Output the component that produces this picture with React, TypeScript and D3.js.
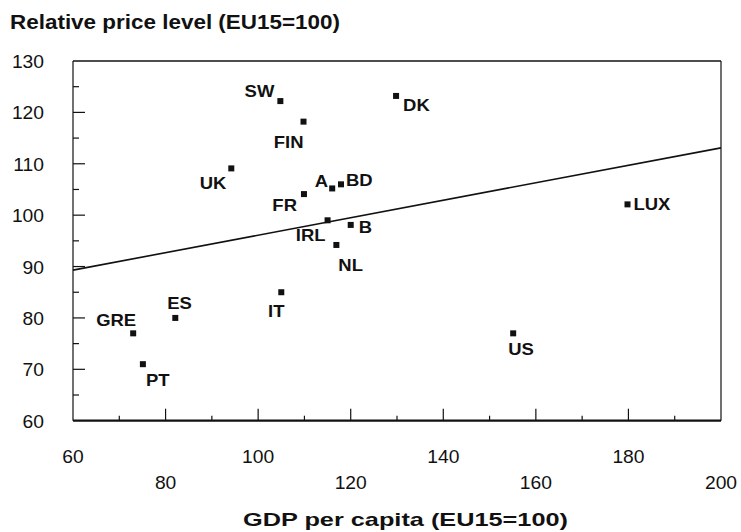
import { useEffect, useRef } from "react";
import * as d3 from "d3";

const countries = ["SW", "FIN", "DK", "UK", "FR", "A", "BD", "IRL", "B", "NL", "LUX", "US", "GRE", "PT", "ES", "IT"];
const gdp = [104.8, 109.8, 129.8, 94.2, 109.9, 116.0, 117.9, 115.0, 120.0, 116.9, 179.8, 155.1, 73.0, 75.1, 82.1, 105.0];
const price = [122.2, 118.2, 123.2, 109.1, 104.1, 105.2, 106.0, 99.0, 98.1, 94.2, 102.1, 77.0, 77.0, 71.0, 80.0, 85.0];

// fitted line end points
const fitGdp = [60, 200];
const fitPrice = [89.3, 113.1];

const xTicks = [60, 80, 100, 120, 140, 160, 180, 200];
const yTicks = [60, 70, 80, 90, 100, 110, 120, 130];

// where each country label sits relative to its marker
const labelPos: Record<string, [string, number, number]> = {
  SW: ["end", -6, -4],
  FIN: ["end", 0, 26],
  DK: ["start", 7, 15],
  UK: ["end", -5, 21],
  FR: ["end", -7, 17],
  A: ["end", -4, -1],
  BD: ["start", 5, 2],
  IRL: ["end", -2, 21],
  B: ["start", 8, 8],
  NL: ["start", 2, 26],
  LUX: ["start", 6, 6],
  US: ["start", -5, 22],
  GRE: ["end", 3, -7],
  PT: ["start", 3, 22],
  ES: ["start", -8, -9],
  IT: ["middle", -5, 25],
};

const W = 741;
const H = 532;
const FONT = "'Liberation Sans', Arial, Helvetica, sans-serif";

export default function App() {
  const svgRef = useRef<SVGSVGElement>(null);

  useEffect(() => {
    if (!svgRef.current) return;
    const svg = d3.select(svgRef.current);
    svg.selectAll("*").remove();

    const x = d3.scaleLinear().domain([60, 200]).range([73, 721]);
    const y = d3.scaleLinear().domain([60, 130]).range([420.7, 61]);

    svg.append("rect").attr("width", W).attr("height", H).attr("fill", "white");

    const txt = (
      tx: number,
      ty: number,
      s: string,
      size: number,
      weight: string,
      anchor: string,
      sx = 1.12
    ) =>
      svg
        .append("text")
        .attr("transform", `translate(${tx},${ty}) scale(${sx},1)`)
        .attr("text-anchor", anchor)
        .attr("font-family", FONT)
        .attr("font-size", size)
        .attr("font-weight", weight)
        .attr("fill", "#111")
        .text(s);

    // titles
    svg
      .append("text")
      .attr("x", 10)
      .attr("y", 29)
      .attr("textLength", 330)
      .attr("lengthAdjust", "spacingAndGlyphs")
      .attr("font-family", FONT)
      .attr("font-size", 20)
      .attr("font-weight", "bold")
      .attr("fill", "#111")
      .text("Relative price level (EU15=100)");

    svg
      .append("text")
      .attr("x", 243)
      .attr("y", 526)
      .attr("textLength", 325)
      .attr("lengthAdjust", "spacingAndGlyphs")
      .attr("font-family", FONT)
      .attr("font-size", 19)
      .attr("font-weight", "bold")
      .attr("fill", "#111")
      .text("GDP per capita (EU15=100)");

    const [x0, x1] = x.range();
    const [y0, y1] = y.range();

    // ticks
    const g = svg.append("g").attr("stroke", "#111");
    d3.range(60, 130, 5).forEach((v) => {
      if (v === 60) return;
      const major = v % 10 === 0;
      g.append("line")
        .attr("x1", x0)
        .attr("x2", x0 + (major ? 12 : 6))
        .attr("y1", y(v))
        .attr("y2", y(v))
        .attr("stroke-width", 1.2);
    });
    d3.range(70, 200, 10).forEach((v) => {
      const major = v % 20 === 0;
      g.append("line")
        .attr("x1", x(v))
        .attr("x2", x(v))
        .attr("y1", y0)
        .attr("y2", y0 - (major ? 12 : 5))
        .attr("stroke-width", 1.2);
    });

    // frame
    g.append("line").attr("x1", x0).attr("x2", x0).attr("y1", y1).attr("y2", y0).attr("stroke-width", 1.2);
    g.append("line").attr("x1", x0).attr("x2", x1).attr("y1", y1).attr("y2", y1).attr("stroke-width", 1.4);
    g.append("line").attr("x1", x1).attr("x2", x1).attr("y1", y1).attr("y2", y0).attr("stroke-width", 1.2);
    g.append("line").attr("x1", x0).attr("x2", x1).attr("y1", y0).attr("y2", y0).attr("stroke-width", 2.2);

    // tick labels
    yTicks.forEach((v) => txt(44, y(v) + 7, String(v), 17.5, "normal", "end", 1.1));
    xTicks.forEach((v, i) =>
      txt(x(v), i % 2 === 0 ? 462.7 : 489.3, String(v), 17.5, "normal", "middle", 1.1)
    );

    // fitted line
    const line = d3
      .line<number>()
      .x((_, i) => x(fitGdp[i]))
      .y((d) => y(d));
    svg
      .append("path")
      .attr("d", line(fitPrice))
      .attr("fill", "none")
      .attr("stroke", "#111")
      .attr("stroke-width", 1.6);

    // points
    countries.forEach((c, i) => {
      const px = x(gdp[i]);
      const py = y(price[i]);
      svg
        .append("rect")
        .attr("x", px - 3)
        .attr("y", py - 3)
        .attr("width", 6)
        .attr("height", 6)
        .attr("fill", "#111");
      const [anchor, dx, dy] = labelPos[c];
      txt(px + dx, py + dy, c, 16.5, "bold", anchor);
    });
  }, []);

  return (
    <svg
      ref={svgRef}
      width={W}
      height={H}
      style={{ position: "absolute", left: 0, top: 0 }}
    />
  );
}
